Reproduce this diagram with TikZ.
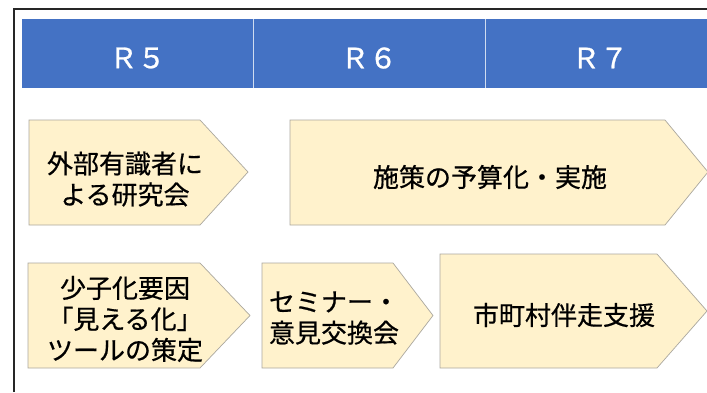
\documentclass[tikz,border=0pt]{standalone}
\usepackage{fontspec}
\newfontfamily\jpfont[FakeBold=0.6]{Noto Sans CJK JP}
\newfontfamily\hdrfont[FakeBold=0.9]{Noto Sans CJK JP}
\definecolor{hdrblue}{HTML}{4472C4}
\definecolor{cream}{HTML}{FFF2CC}
\definecolor{boxline}{HTML}{ABA89F}
\definecolor{frameline}{HTML}{262626}
\begin{document}
\begin{tikzpicture}[x=1pt,y=-1pt,
  arrowbox/.style={fill=cream,draw=boxline,line width=0.7pt,line join=miter},
  hdrtext/.style={text=white,font=\hdrfont\fontsize{28}{32}\selectfont,inner sep=0pt},
  bodytext/.style={text=black,font=\jpfont\fontsize{26}{31}\selectfont,align=center,inner sep=0pt},
  bodyleft/.style={text=black,font=\jpfont\fontsize{26}{31}\selectfont,align=left,inner sep=0pt}]
\useasboundingbox[fill=white] (0,0) rectangle (707,392);
% outer frame
\draw[frameline,line width=1.3pt] (14,392) -- (14,9) -- (707,9);
% header
\fill[hdrblue] (22,19) rectangle (707,88);
\draw[white!75!hdrblue,line width=0.8pt] (253,19) -- (253,88);
\draw[white!75!hdrblue,line width=0.8pt] (485,19) -- (485,88);
\node[hdrtext] (r5) at (137.5,58) {Ｒ５};
\node[hdrtext] (r6) at (369,58) {Ｒ６};
\node[hdrtext] (r7) at (600,58) {Ｒ７};
% row 1
\draw[arrowbox] (29,120) -- (200,120) -- (248,172) -- (200,225) -- (29,225) -- cycle;
\draw[arrowbox] (290,120) -- (665,120) -- (708,172) -- (665,225) -- (290,225) -- cycle;
\node[bodytext] (b1) at (125,179) {外部有識者に\\よる研究会};
\node[bodytext] (b2) at (490,177) {施策の予算化・実施};
% row 2
\draw[arrowbox] (28,263) -- (200,263) -- (250,315.5) -- (200,368) -- (28,368) -- cycle;
\draw[arrowbox] (262,263) -- (393,263) -- (433,315.5) -- (393,368) -- (262,368) -- cycle;
\draw[arrowbox] (440,254) -- (657,254) -- (707,311) -- (657,368) -- (440,368) -- cycle;
\node[bodytext] (b3) at (125,319) {少子化要因\\「見える化」\\ツールの策定};
\node[bodyleft] (b4) at (334,318) {セミナー・\\意見交換会};
\node[bodytext] (b5) at (564,315) {市町村伴走支援};
\end{tikzpicture}
\end{document}
